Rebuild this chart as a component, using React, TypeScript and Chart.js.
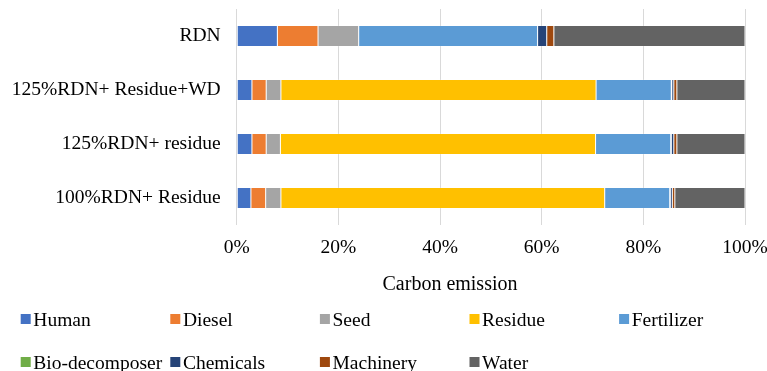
import React, { useEffect, useRef } from "react";
import { Chart, registerables } from "chart.js";

Chart.register(...registerables);

// Treatments (top to bottom)
const categories = [
  "RDN",
  "125%RDN+ Residue+WD",
  "125%RDN+ residue",
  "100%RDN+ Residue",
];

// Share of total carbon emission (%) per source, in category order
const human = [8.0, 3.0, 3.0, 2.8];
const diesel = [8.0, 2.8, 2.8, 2.9];
const seed = [8.0, 2.9, 2.8, 3.0];
const residue = [0, 62.0, 62.0, 63.7];
const fertilizer = [35.2, 14.8, 14.8, 12.8];
const bioDecomposer = [0, 0.1, 0.1, 0.1];
const chemicals = [1.8, 0.4, 0.5, 0.4];
const machinery = [1.4, 0.6, 0.6, 0.5];
const water = [37.6, 13.4, 13.4, 13.8];

const seriesNames = [
  "Human",
  "Diesel",
  "Seed",
  "Residue",
  "Fertilizer",
  "Bio-decomposer",
  "Chemicals",
  "Machinery",
  "Water",
];
const seriesValues = [
  human,
  diesel,
  seed,
  residue,
  fertilizer,
  bioDecomposer,
  chemicals,
  machinery,
  water,
];
const seriesColors = [
  "#4472C4",
  "#ED7D31",
  "#A5A5A5",
  "#FFC000",
  "#5B9BD5",
  "#70AD47",
  "#264478",
  "#9E480E",
  "#636363",
];

const xTicks = [0, 20, 40, 60, 80, 100];
const axisTitle = "Carbon emission";

const FONT = "'Liberation Serif', 'Times New Roman', serif";

// Grid-style legend (5 columns) and the x-axis title, drawn below the plot
const legendPlugin = {
  id: "gridLegend",
  afterDraw(chart: Chart) {
    const ctx = chart.ctx;
    ctx.save();
    ctx.fillStyle = "#000";
    ctx.font = `20px ${FONT}`;
    ctx.textAlign = "center";
    ctx.textBaseline = "middle";
    ctx.fillText(axisTitle, 450, 285);

    const colStep = 149.6;
    const rows = [319, 362];
    chart.data.datasets.forEach((ds: any, i: number) => {
      const col = i % 5;
      const row = Math.floor(i / 5);
      const x = 20.7 + col * colStep;
      const y = rows[row];
      ctx.fillStyle = ds.backgroundColor as string;
      ctx.fillRect(x, y - 5, 10, 10);
      ctx.fillStyle = "#000";
      ctx.font = `19.5px ${FONT}`;
      ctx.textAlign = "left";
      ctx.textBaseline = "alphabetic";
      ctx.fillText(ds.label, x + 12.6, y + 6.8);
    });
    ctx.restore();
  },
};

export default function App() {
  const canvasRef = useRef<HTMLCanvasElement | null>(null);

  useEffect(() => {
    if (!canvasRef.current) return;
    const chart = new Chart(canvasRef.current, {
      type: "bar",
      data: {
        labels: categories,
        datasets: seriesNames.map((name, i) => ({
          label: name,
          data: seriesValues[i],
          backgroundColor: seriesColors[i],
          borderColor: "rgba(255,255,255,0.6)",
          borderWidth: 0.5,
          borderSkipped: false,
          categoryPercentage: 1,
          barPercentage: 0.39,
        })),
      },
      options: {
        indexAxis: "y",
        responsive: false,
        animation: false,
        layout: { padding: { left: 0, right: 22, top: 9, bottom: 0 } },
        plugins: {
          legend: { display: false },
          tooltip: { enabled: false },
        },
        scales: {
          x: {
            stacked: true,
            min: 0,
            max: 100,
            afterBuildTicks: (scale: any) => {
              scale.ticks = xTicks.map((v) => ({ value: v }));
            },
            afterFit: (scale: any) => {
              scale.height = 146;
              scale.paddingLeft = 0;
              scale.paddingRight = 0;
            },
            border: { display: false },
            grid: { color: "#d9d9d9", lineWidth: 1, drawTicks: false },
            ticks: {
              padding: 11,
              color: "#000",
              font: { family: FONT, size: 19.5 },
              callback: (v: any) => `${v}%`,
            },
          },
          y: {
            stacked: true,
            afterFit: (scale: any) => {
              scale.width = 236.7;
              scale.paddingTop = 0;
              scale.paddingBottom = 0;
            },
            border: { display: false },
            grid: { display: false, drawTicks: false },
            ticks: {
              padding: 16,
              color: "#000",
              font: { family: FONT, size: 19.5 },
            },
          },
        },
      },
      plugins: [legendPlugin],
    });
    return () => chart.destroy();
  }, []);

  return (
    <div
      style={{
        position: "fixed",
        left: 0,
        top: 0,
        width: 767,
        height: 371,
        background: "#fff",
      }}
    >
      <canvas ref={canvasRef} width={767} height={371} />
    </div>
  );
}
